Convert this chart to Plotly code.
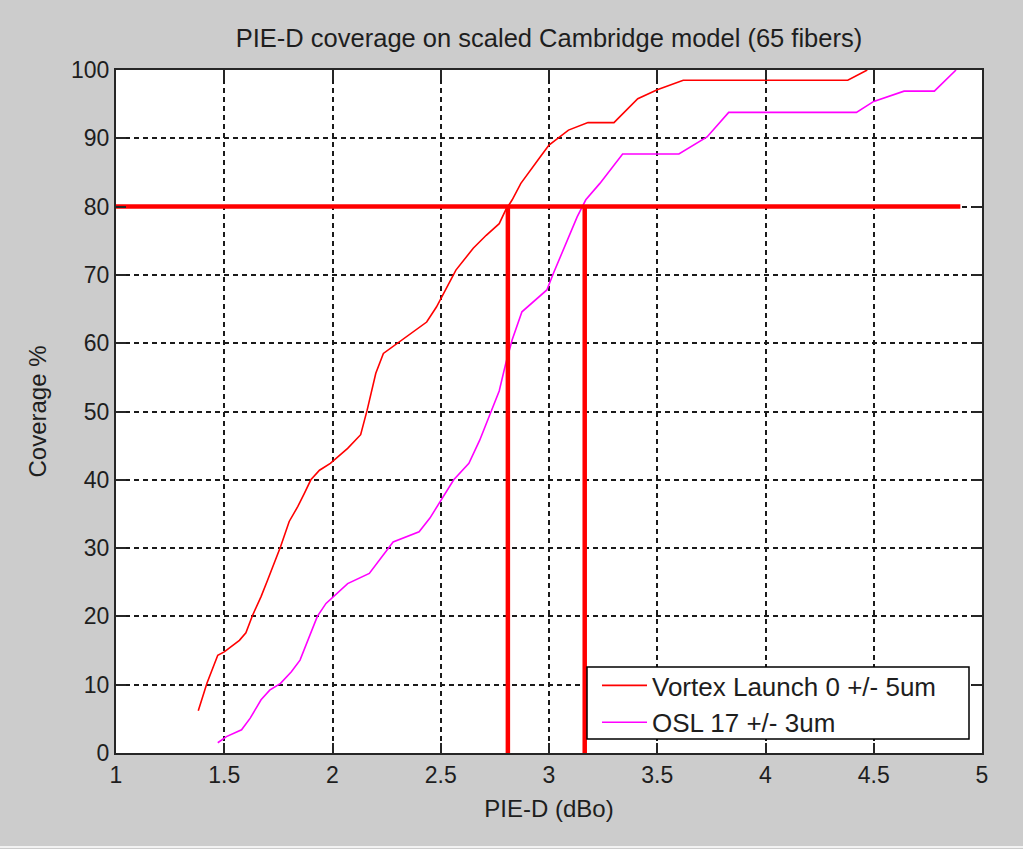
import plotly.graph_objects as go

# ---- data ----
vortex_x = [1.38, 1.42, 1.47, 1.50, 1.57, 1.60, 1.63, 1.67, 1.70, 1.76, 1.80, 1.84,
            1.87, 1.90, 1.94, 1.99, 2.07, 2.13, 2.16, 2.20, 2.235, 2.31, 2.37, 2.435,
            2.48, 2.57, 2.65, 2.71, 2.77, 2.80, 2.83, 2.87, 2.96, 3.00, 3.09, 3.18,
            3.30, 3.41, 3.50, 3.62, 4.38, 4.47]
vortex_y = [6.2, 10.2, 14.3, 14.8, 16.5, 17.6, 20.1, 22.9, 25.3, 30.2, 33.9, 36.1,
            38.0, 40.0, 41.4, 42.4, 44.6, 46.6, 50.2, 55.6, 58.5, 60.2, 61.5, 63.1,
            65.3, 70.7, 73.9, 75.8, 77.5, 79.5, 81.0, 83.4, 87.3, 89.0, 91.2, 92.3,
            92.3, 95.8, 97.1, 98.5, 98.5, 100.0]

osl_x = [1.47, 1.51, 1.58, 1.62, 1.67, 1.71, 1.76, 1.81, 1.85, 1.93, 1.97, 2.07,
         2.17, 2.28, 2.40, 2.45, 2.56, 2.63, 2.68, 2.72, 2.77, 2.80, 2.83, 2.875,
         2.92, 2.99, 3.02, 3.07, 3.13, 3.17, 3.235, 3.34, 3.60, 3.73, 3.83, 4.42,
         4.50, 4.64, 4.78, 4.88]
osl_y = [1.5, 2.4, 3.4, 5.1, 7.8, 9.2, 10.2, 11.9, 13.6, 20.0, 21.9, 24.8,
         26.3, 30.9, 32.4, 34.4, 40.0, 42.4, 45.8, 49.0, 53.0, 57.0, 60.5, 64.6,
         65.8, 67.8, 70.2, 74.1, 78.5, 81.0, 83.4, 87.7, 87.7, 90.2, 93.8, 93.8,
         95.4, 96.9, 96.9, 100.0]

threshold_y = 80
threshold_x_range = [1.0, 4.9]
crossing_x = [2.81, 3.165]

series_names = ["Vortex Launch 0 +/- 5um", "OSL 17 +/- 3um"]
x_ticks = [1, 1.5, 2, 2.5, 3, 3.5, 4, 4.5, 5]
x_tick_labels = ["1", "1.5", "2", "2.5", "3", "3.5", "4", "4.5", "5"]
y_ticks = [0, 10, 20, 30, 40, 50, 60, 70, 80, 90, 100]

FONT = "Liberation Sans, Arial, sans-serif"
TXT = "#1e1e1e"

# plot-area pixel geometry (for the legend frame placement)
L, R, T, B = 116, 982, 70, 753
PW, PH = R - L, B - T


def px_x(p):
    return (p - L) / PW


def px_y(p):
    return (B - p) / PH


fig = go.Figure()
fig.add_trace(go.Scatter(x=vortex_x, y=vortex_y, mode="lines", name=series_names[0],
                         line=dict(color="#ff0000", width=1.6)))
fig.add_trace(go.Scatter(x=osl_x, y=osl_y, mode="lines", name=series_names[1],
                         line=dict(color="#ff00ff", width=1.6)))
# thick threshold lines
fig.add_trace(go.Scatter(x=threshold_x_range, y=[threshold_y, threshold_y], mode="lines",
                         showlegend=False, hoverinfo="skip",
                         line=dict(color="#ff0000", width=4.5)))
for cx in crossing_x:
    fig.add_trace(go.Scatter(x=[cx, cx], y=[0, threshold_y], mode="lines",
                             showlegend=False, hoverinfo="skip",
                             line=dict(color="#ff0000", width=4.5)))

axis_common = dict(
    showgrid=True, gridcolor="#1a1a1a", gridwidth=1.5, griddash="5px,4px",
    showline=True, linecolor="#262626", linewidth=2, mirror="ticks",
    ticks="inside", ticklen=10, tickwidth=2, tickcolor="#262626",
    zeroline=False, tickfont=dict(family=FONT, size=23, color=TXT),
)

fig.update_layout(
    width=1023, height=849,
    paper_bgcolor="#cccccc", plot_bgcolor="#ffffff",
    margin=dict(l=L, r=1023 - R, t=T, b=849 - B, autoexpand=False),
    font=dict(family=FONT, color=TXT),
    title=dict(text="PIE-D coverage on scaled Cambridge model (65 fibers)",
               font=dict(family=FONT, size=25.5, color=TXT),
               x=0.5, xref="paper", xanchor="center",
               y=1 - 38 / 849, yref="container", yanchor="middle"),
    xaxis=dict(range=[1, 5], tickvals=x_ticks, ticktext=x_tick_labels,
               title=dict(text="PIE-D (dBo)", font=dict(family=FONT, size=24, color=TXT),
                          standoff=14),
               **axis_common),
    yaxis=dict(range=[0, 100], tickvals=y_ticks,
               title=dict(text="Coverage %", font=dict(family=FONT, size=24, color=TXT),
                          standoff=18),
               **axis_common),
    legend=dict(x=px_x(597), y=px_y(662), xanchor="left", yanchor="top",
                bgcolor="rgba(0,0,0,0)", borderwidth=0,
                font=dict(family=FONT, size=26, color=TXT),
                itemwidth=45, tracegroupgap=0),
    showlegend=True,
    shapes=[
        dict(type="rect", xref="paper", yref="paper", layer="above",
             x0=px_x(587), x1=px_x(969), y0=px_y(739), y1=px_y(667),
             fillcolor="#ffffff", line=dict(color="#000000", width=1.5)),
        dict(type="line", xref="paper", yref="paper", x0=-0.2, x1=1.1,
             y0=px_y(847), y1=px_y(847), line=dict(color="#f2f2f2", width=2)),
    ],
)

fig.write_html("out.html")
